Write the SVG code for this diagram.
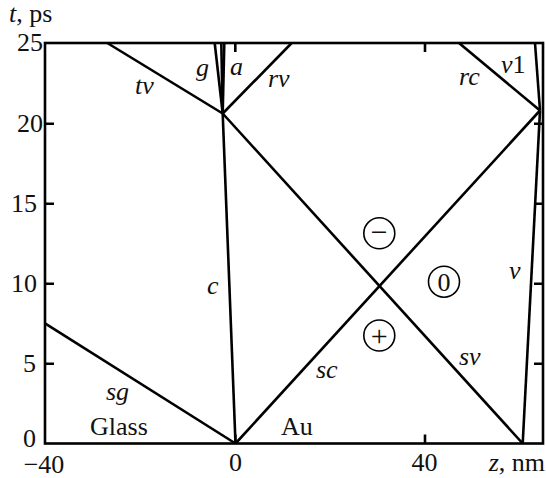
<svg xmlns="http://www.w3.org/2000/svg" width="546" height="478" viewBox="0 0 546 478">
<style>
.ln{stroke:#000;stroke-width:2.6;fill:none;stroke-linecap:butt}
.fr{stroke:#000;stroke-width:2.6;fill:none}
.tx{font-family:"Liberation Serif","Times New Roman",serif;font-size:26px;fill:#111}
.it{font-style:italic}
.cc{fill:none;stroke:#000;stroke-width:1.6}
.sy{font-family:"Liberation Serif","Times New Roman",serif;font-size:30px;fill:#111}
</style>
<rect width="546" height="478" fill="#fff"/>
<g id="axes">
<rect class="fr" x="45" y="43" width="498" height="400.5"/>
<path class="fr" d="M45 123.7h9M45 203.7h9M45 283.7h9M45 363.7h9M543 123.7h-9M543 203.7h-9M543 283.7h-9M543 363.7h-9M235.3 43v9M425 43v9M425 443.5v-9M235.3 443.5v-9"/>
<g class="tx" text-anchor="end">
<text x="43" y="51">25</text>
<text x="43" y="131.5">20</text>
<text x="37" y="211.5">15</text>
<text x="37" y="291.5">10</text>
<text x="36" y="371.5">5</text>
<text x="36" y="447">0</text>
</g>
<g class="tx" text-anchor="middle">
<text x="44" y="473">−40</text>
<text x="235.5" y="471">0</text>
<text x="424.5" y="471">40</text>
</g>
<text class="tx" x="9" y="21.5"><tspan class="it">t</tspan>, ps</text>
<text class="tx" x="545" y="471" text-anchor="end"><tspan class="it">z</tspan>, nm</text>
</g>
<g id="connectors">
<line class="ln" x1="45" y1="323.3" x2="235.5" y2="443.5"/>
<line class="ln" x1="235.5" y1="443.5" x2="222.7" y2="113.5"/>
<line class="ln" x1="235.5" y1="443.5" x2="540" y2="110.5"/>
<line class="ln" x1="522.7" y1="443.5" x2="222.7" y2="113.5"/>
<line class="ln" x1="522.7" y1="443.5" x2="540" y2="110.5"/>
<line class="ln" x1="107.3" y1="43" x2="222.7" y2="113.5"/>
<line class="ln" x1="214.7" y1="43" x2="222.7" y2="113.5"/>
<line class="ln" x1="221.3" y1="43" x2="222.7" y2="113.5"/>
<line class="ln" x1="224.3" y1="43" x2="222.7" y2="113.5"/>
<line class="ln" x1="291.7" y1="43" x2="222.7" y2="113.5"/>
<line class="ln" x1="459" y1="43" x2="540" y2="110.5"/>
<line class="ln" x1="535" y1="43" x2="540" y2="110.5"/>
</g>
<g id="labels" class="tx it">
<text x="135" y="94">tv</text>
<text x="196" y="76">g</text>
<text x="230" y="75">a</text>
<text x="268" y="87">rv</text>
<text x="459" y="85">rc</text>
<text x="501" y="73">v<tspan font-style="normal">1</tspan></text>
<text x="207" y="294">c</text>
<text x="509" y="279">v</text>
<text x="316" y="378">sc</text>
<text x="459" y="365">sv</text>
<text x="106" y="400">sg</text>
</g>
<g id="regions" class="tx">
<text x="90" y="434.5">Glass</text>
<text x="281" y="434.5">Au</text>
</g>
<g id="minus">
<circle class="cc" cx="379.3" cy="233.3" r="15.5"/>
<text class="sy" x="379.3" y="241.5" text-anchor="middle">−</text>
</g>
<g id="zero">
<circle class="cc" cx="444" cy="281.7" r="15.5"/>
<text class="tx" x="444" y="290.7" text-anchor="middle">0</text>
</g>
<g id="plus">
<circle class="cc" cx="379.3" cy="335.5" r="15.5"/>
<text class="sy" x="379.3" y="345.5" text-anchor="middle">+</text>
</g>
</svg>
